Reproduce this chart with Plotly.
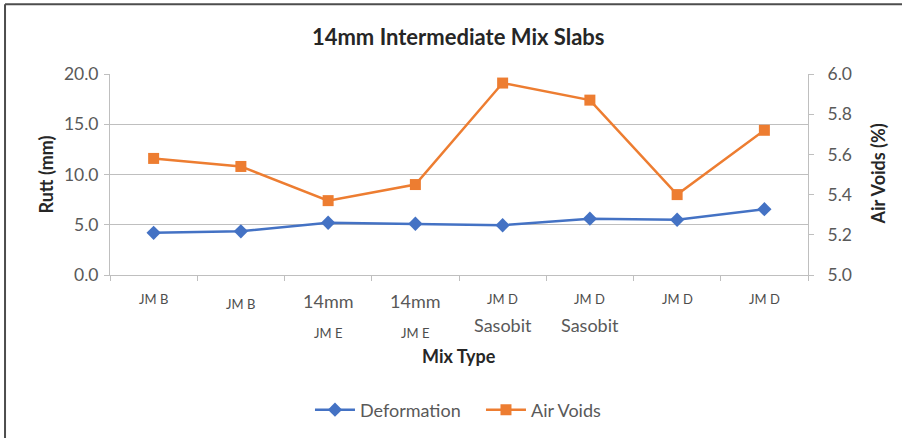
import plotly.graph_objects as go

# Slab data
mix_index = [0, 1, 2, 3, 4, 5, 6, 7]
label_top = ["JM B", "JM B", "14mm", "14mm", "JM D", "JM D", "JM D", "JM D"]
label_bottom = ["", "", "JM E", "JM E", "Sasobit", "Sasobit", "", ""]
deformation = [4.2, 4.35, 5.2, 5.1, 4.95, 5.6, 5.5, 6.55]
air_voids = [5.58, 5.54, 5.37, 5.45, 5.955, 5.87, 5.40, 5.72]

BLUE = "#4472C4"
ORANGE = "#ED7D31"
GREY_TXT = "#595959"
DARK_TXT = "#262626"
FONT = "Lato"

fig = go.Figure()
fig.add_trace(go.Scatter(
    x=mix_index, y=deformation, name="Deformation", mode="lines+markers",
    line=dict(color=BLUE, width=2.5),
    marker=dict(symbol="diamond", size=11, color=BLUE),
))
fig.add_trace(go.Scatter(
    x=mix_index, y=air_voids, name="Air Voids", mode="lines+markers",
    line=dict(color=ORANGE, width=2.5),
    marker=dict(symbol="square", size=11, color=ORANGE),
    yaxis="y2",
))

# Category labels below the axis, two lines with mixed sizes
small = {"JM B", "JM E", "JM D"}
annotations = []
for i, (a, b) in enumerate(zip(label_top, label_bottom)):
    if a in small:
        shift1 = -29 if i == 1 else -24
    else:
        shift1 = -26
    annotations.append(dict(
        x=i, y=0, xref="x", yref="paper", text=a, showarrow=False,
        yanchor="middle", yshift=shift1,
        font=dict(family=FONT, size=13 if a in small else 18, color="#4d4d4d" if a in small else GREY_TXT)))
    if b:
        shift2 = -58 if b in small else -50
        annotations.append(dict(
            x=i, y=0, xref="x", yref="paper", text=b, showarrow=False,
            yanchor="middle", yshift=shift2,
            font=dict(family=FONT, size=13 if b in small else 18, color="#4d4d4d" if b in small else GREY_TXT)))

# Axis titles
annotations += [
    dict(text="<b>Mix Type</b>", x=0.5, y=0, xref="paper", yref="paper",
         yanchor="middle", yshift=-81, showarrow=False,
         font=dict(family=FONT, size=18, color=DARK_TXT)),
    dict(text="<b>Rutt (mm)</b>", x=0, y=0.5, xref="paper", yref="paper",
         xanchor="center", xshift=-65, textangle=-90, showarrow=False,
         font=dict(family=FONT, size=18, color=DARK_TXT)),
    dict(text="<b>Air Voids (%)</b>", x=1, y=0.5, xref="paper", yref="paper",
         xanchor="center", xshift=69, textangle=-90, showarrow=False,
         font=dict(family=FONT, size=18, color=DARK_TXT)),
]

fig.update_layout(
    width=902, height=438,
    margin=dict(l=110, r=94, t=74, b=162),
    paper_bgcolor="white", plot_bgcolor="white",
    title=dict(text="<b>14mm Intermediate Mix Slabs</b>", x=0.508, xanchor="center",
               y=0.915, yanchor="middle",
               font=dict(family=FONT, size=22, color=DARK_TXT)),
    xaxis=dict(
        range=[-0.5, 7.5], tickvals=[k - 0.5 for k in range(9)],
        ticktext=[""] * 9, ticks="outside", ticklen=5, tickcolor="#bfbfbf",
        showgrid=False, zeroline=False, showline=True, linecolor="#bfbfbf",
        linewidth=1,
    ),
    yaxis=dict(
        range=[0, 20], tickvals=[0, 5, 10, 15, 20], tickformat=".1f",
        ticks="outside", ticklen=5, tickcolor="#bfbfbf", ticklabelstandoff=2,
        showgrid=True, gridcolor="#bfbfbf", gridwidth=1, zeroline=False,
        showline=True, linecolor="#bfbfbf",
        tickfont=dict(family=FONT, size=17.5, color=GREY_TXT),
    ),
    yaxis2=dict(
        range=[5.0, 6.0], tickvals=[5.0, 5.2, 5.4, 5.6, 5.8, 6.0], tickformat=".1f",
        overlaying="y", side="right", ticks="outside", ticklen=5,
        ticklabelstandoff=10,
        tickcolor="#bfbfbf", showgrid=False, zeroline=False,
        showline=True, linecolor="#bfbfbf",
        tickfont=dict(family=FONT, size=17.5, color=GREY_TXT),
    ),
    legend=dict(orientation="h", x=0.2865, xanchor="left", y=-0.663,
                yanchor="middle", font=dict(family=FONT, size=18, color=GREY_TXT),
                itemwidth=40, entrywidth=116, traceorder="normal"),
    annotations=annotations,
    showlegend=True,
    shapes=[
        dict(type="line", xref="paper", yref="paper", x0=-0.1504, x1=1.2, y0=1.3465, y1=1.3465,
             line=dict(color="#4d4d4d", width=2)),
        dict(type="line", xref="paper", yref="paper", x0=-0.1504, x1=-0.1504, y0=-0.9, y1=1.3465,
             line=dict(color="#4d4d4d", width=2)),
    ],
)

fig.write_html("out.html")
